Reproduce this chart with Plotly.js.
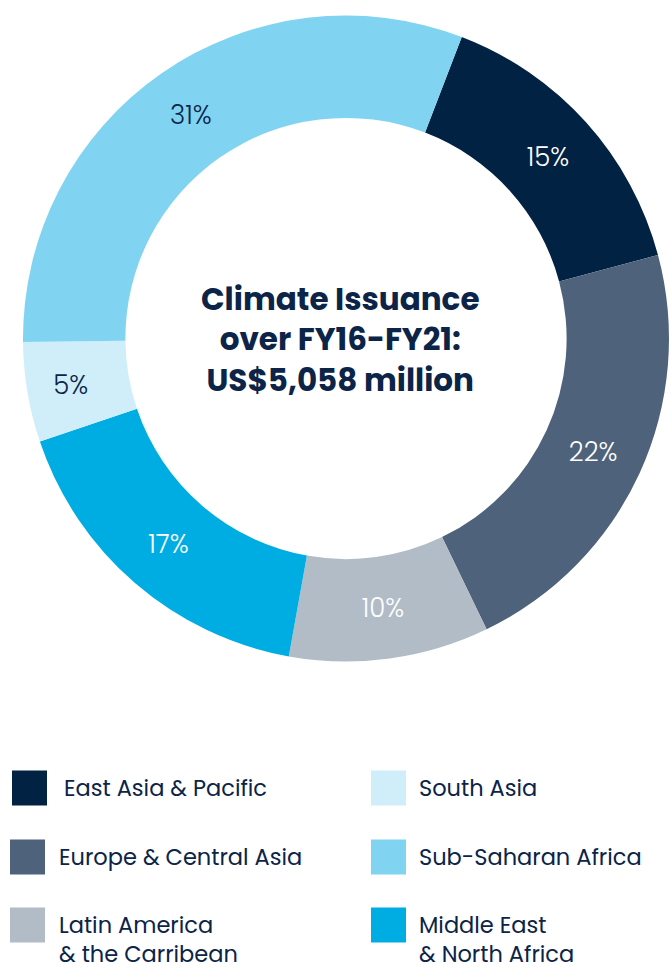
<!DOCTYPE html>
<html>
<head>
<meta charset="utf-8">
<script src="https://cdn.plot.ly/plotly-3.0.1.min.js"></script>
<style>html,body{margin:0;padding:0;background:#fff}#chart{width:671px;height:970px}</style>
</head>
<body>
<div id="chart"></div>
<script>
// ---- data ----
const regions = ["East Asia & Pacific", "Europe & Central Asia", "Latin America<br>& the Carribean", "Middle East<br>& North Africa", "South Asia", "Sub-Saharan Africa"];
const shares = [15, 22, 10, 17, 5, 31];
const sliceColors = ["#022244", "#4e637b", "#b1bcc7", "#00ade3", "#cfeefa", "#80d4f1"];
const labelColors = ["#ffffff", "#ffffff", "#ffffff", "#ffffff", "#0b2447", "#0b2447"];
const centerTitle = "Climate Issuance<br>over FY16-FY21:<br>US$5,058 million";
// legend layout order (column-wise: left column then right column)
const legendOrder = [0, 1, 2, 4, 5, 3];

// ---- layout helpers ----
const W = 671, H = 970;
const px = x => x / W;
const py = y => 1 - y / H;
const FONT = "Poppins, Inter, 'Open Sans', sans-serif";
const NAVY = "#0b2447";

const legendCols = [10, 371];      // square left edge
const legendTextX = [57, 417];
const legendRows = [788, 857, 925];
const sq = 35, legendSize = 22.5;
const lineH = legendSize * 1.3;

const shapes = [];
const annotations = [{
  text: "<b>" + centerTitle + "</b>",
  x: px(340), y: py(339), xref: "paper", yref: "paper",
  xanchor: "center", yanchor: "middle", showarrow: false,
  font: {family: FONT, size: 31, color: NAVY}, align: "center"
}];

legendOrder.forEach((idx, k) => {
  const col = Math.floor(k / 3), row = k % 3;
  const cy = legendRows[row];
  const x0 = legendCols[col] + (k === 0 ? 2 : 0);
  shapes.push({
    type: "rect", xref: "paper", yref: "paper",
    x0: px(x0), x1: px(x0 + sq), y0: py(cy - sq / 2), y1: py(cy + sq / 2),
    fillcolor: sliceColors[idx], line: {width: 0}
  });
  const nLines = regions[idx].split("<br>").length;
  annotations.push({
    text: regions[idx], align: "left",
    x: px(legendTextX[col] + (k === 0 ? 5 : 0)), y: py(cy + (nLines - 1) * lineH / 2),
    xref: "paper", yref: "paper", xanchor: "left", yanchor: "middle",
    showarrow: false, font: {family: FONT, size: legendSize, color: NAVY}
  });
});

const trace = {
  type: "pie",
  labels: regions,
  values: shares,
  hole: 0.683,
  sort: false,
  direction: "clockwise",
  rotation: 21,
  marker: {colors: sliceColors, line: {width: 0}},
  texttemplate: "%{value}%",
  textposition: "inside",
  insidetextorientation: "horizontal",
  textfont: {family: FONT, size: 26, color: labelColors, weight: 300},
  domain: {x: [px(23), px(669)], y: [py(662), py(15)]},
  showlegend: false,
  hoverinfo: "label+percent"
};

const layout = {
  width: W, height: H,
  margin: {l: 0, r: 0, t: 0, b: 0},
  paper_bgcolor: "#ffffff",
  showlegend: false,
  shapes: shapes,
  annotations: annotations
};

Plotly.newPlot("chart", [trace], layout, {displayModeBar: false, staticPlot: true});
</script>
</body>
</html>
